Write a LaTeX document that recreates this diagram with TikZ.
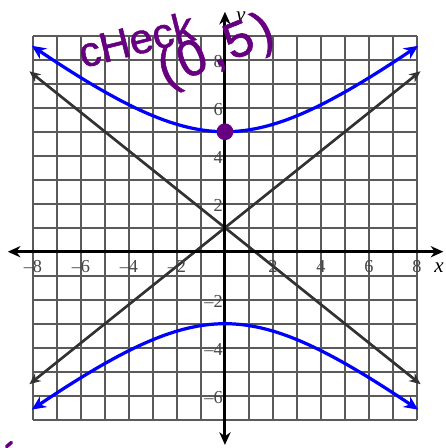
\documentclass[tikz,border=0pt]{standalone}
\usepackage{fontspec}
\newfontfamily\handfont[FakeBold=1.2]{Liberation Sans}
\newfontfamily\labfont{Liberation Serif}
\usetikzlibrary{arrows.meta}
\definecolor{gridgray}{RGB}{90,90,90}
\definecolor{asym}{RGB}{50,50,50}
\definecolor{hand}{RGB}{102,0,128}
\definecolor{labgray}{RGB}{70,70,70}
\tikzset{
  gridline/.style={gridgray, line width=1.4pt},
  axisline/.style={black, line width=2.1pt, -{Stealth[length=9pt,width=8pt]}},
  hyper/.style={blue, line width=2.3pt, {Stealth[length=10pt,width=9pt]}-{Stealth[length=10pt,width=9pt]}},
  asymline/.style={asym, line width=1.9pt, {Stealth[length=8pt,width=7pt]}-{Stealth[length=8pt,width=7pt]}},
  ticklab/.style={labgray, font=\labfont\fontsize{13}{15}\selectfont, inner sep=0pt},
  handtext/.style={hand, font=\handfont\fontsize{30}{32}\selectfont, inner sep=0pt}
}
\begin{document}
\begin{tikzpicture}[x=0.6cm,y=0.6cm]
\useasboundingbox (-9.375,-8.18) rectangle (9.208,10.49);
% grid
\foreach \gx in {-8,...,8} { \draw[gridline] (\gx,-7) -- (\gx,9); }
\foreach \gy in {-7,...,9} { \draw[gridline] (-8,\gy) -- (8,\gy); }
% asymptotes
\coordinate (aul) at (-8.15,7.52);
\coordinate (alr) at (8.15,-5.52);
\coordinate (all) at (-8.15,-5.52);
\coordinate (aur) at (8.15,7.52);
\draw[asymline] (aul) -- (alr);
\draw[asymline] (all) -- (aur);
% axes
\coordinate (org) at (0,0);
\coordinate (xl) at (-9.05,0);
\coordinate (xr) at (9.1,0);
\coordinate (yb) at (0,-8.05);
\coordinate (yt) at (0,10.0);
\draw[axisline] (org) -- (xl);
\draw[axisline] (org) -- (xr);
\draw[axisline] (org) -- (yb);
\draw[axisline] (org) -- (yt);
\node[font=\labfont\itshape\fontsize{15}{17}\selectfont, inner sep=0pt] (xlab) at (8.92,-0.68) {x};
\node[font=\labfont\itshape\fontsize{15}{17}\selectfont, inner sep=0pt] (ylab) at (0.66,9.68) {y};
% tick labels
\foreach \v/\t [count=\i] in {-8/–8,-6/–6,-4/–4,-2/–2,2/2,4/4,6/6,8/8} {
  \node[ticklab] (xt\i) at (\v,-0.62) {\t};
}
\foreach \v/\t [count=\i] in {8/8,6/6,4/4,2/2,-2/–2,-4/–4,-6/–6} {
  \node[ticklab, anchor=east] (ytl\i) at (-0.08,\v-0.08) {\t};
}
% hyperbola
\draw[hyper, domain=-8.05:8.05, samples=80] plot (\x,{1+4*sqrt(1+\x*\x/25)});
\draw[hyper, domain=-8.05:8.05, samples=80] plot (\x,{1-4*sqrt(1+\x*\x/25)});
% vertex dot
\fill[hand] (0,5) circle (0.35);
% handwriting
\node[handtext, rotate=14] (check) at (-3.7,8.85) {cHeck};
\node[handtext, rotate=22, font=\handfont\fontsize{36}{38}\selectfont\addfontfeatures{LetterSpace=8}] (pt) at (-0.35,8.3) {(0,5)};
\draw[hand, line width=2.5pt, line cap=round] (-9.1,-8.12) -- (-8.9,-7.95);
\end{tikzpicture}
\end{document}
